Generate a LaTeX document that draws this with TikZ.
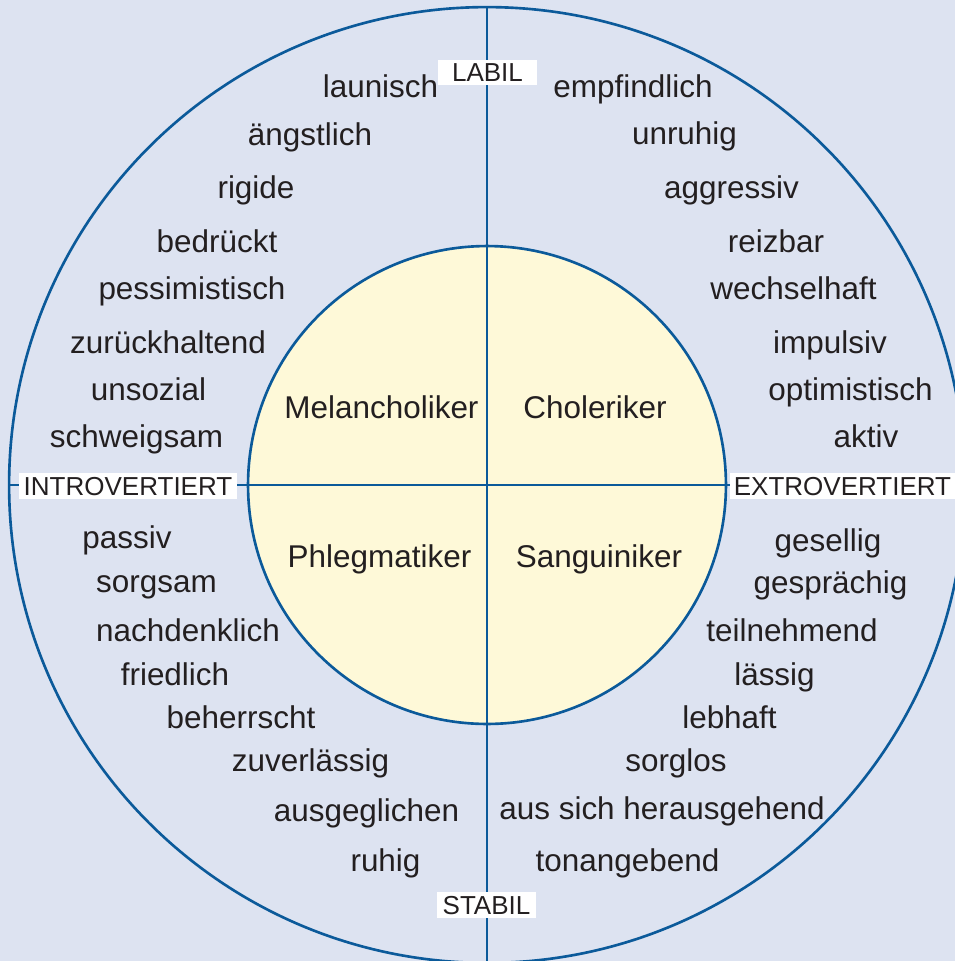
\documentclass[tikz,border=0pt]{standalone}
\usepackage{fontspec}
\setmainfont{Liberation Sans}
\definecolor{bgblue}{HTML}{DDE3F1}
\definecolor{ringblue}{HTML}{0B5A9A}
\definecolor{coreyellow}{HTML}{FEF9D8}
\definecolor{ink}{HTML}{231F20}

\begin{document}
\begin{tikzpicture}[x=0.02cm, y=-0.02cm,
    ring/.style={draw=ringblue, line width=1.5pt},
    word/.style={font=\fontsize{17.9}{20}\selectfont, text=ink, anchor=base, inner sep=0pt},
    typ/.style={word},
    axislabel/.style={font=\fontsize{14.8}{17}\selectfont, text=ink, fill=white,
        text height=10.6pt, text depth=0pt, inner xsep=2.5pt, inner ysep=2pt}]

    % Background
    \useasboundingbox (0,0) rectangle (955,961);
    \clip (0,0) rectangle (955,961);
    \fill[bgblue] (0,0) rectangle (955,961);

    % Circles
    \coordinate (center) at (487,485);
    \draw[ring] (center) circle[radius=9.56cm];
    \filldraw[ring, fill=coreyellow] (center) circle[radius=4.78cm];

    % Axes
    \coordinate (north) at (487,7);
    \coordinate (south) at (487,963);
    \coordinate (west) at (9,485);
    \coordinate (east) at (965,485);
    \draw[ring] (north) -- (south);
    \draw[ring] (west) -- (east);

    % Axis labels
    \node[axislabel, minimum width=1.98cm] (labil) at (487.5,72.5) {LABIL};
    \node[axislabel, minimum width=1.98cm] (stabil) at (486.5,905) {STABIL};
    \node[axislabel] (intro) at (128,486) {INTROVERTIERT};
    \node[axislabel] (extro) at (842.5,486) {EXTROVERTIERT};

    % Temperamente
    \node[typ] (melancholiker) at (381.5,418) {Melancholiker};
    \node[typ] (choleriker) at (595,418) {Choleriker};
    \node[typ] (phlegmatiker) at (379.5,567) {Phlegmatiker};
    \node[typ] (sanguiniker) at (599,567) {Sanguiniker};

    % labil / introvertiert
    \node[word] (launisch) at (380.5,97) {launisch};
    \node[word] (aengstlich) at (310,145) {ängstlich};
    \node[word] (rigide) at (256,198) {rigide};
    \node[word] (bedrueckt) at (217,252) {bedrückt};
    \node[word] (pessimistisch) at (192,299) {pessimistisch};
    \node[word] (zurueckhaltend) at (168,353) {zurückhaltend};
    \node[word] (unsozial) at (148.5,400) {unsozial};
    \node[word] (schweigsam) at (136.5,447) {schweigsam};

    % labil / extrovertiert
    \node[word] (empfindlich) at (633,97) {empfindlich};
    \node[word] (unruhig) at (684.5,144) {unruhig};
    \node[word] (aggressiv) at (731.5,198) {aggressiv};
    \node[word] (reizbar) at (776,252) {reizbar};
    \node[word] (wechselhaft) at (793.5,299) {wechselhaft};
    \node[word] (impulsiv) at (830,353) {impulsiv};
    \node[word] (optimistisch) at (850.5,400) {optimistisch};
    \node[word] (aktiv) at (866,447) {aktiv};

    % stabil / introvertiert
    \node[word] (passiv) at (127,548) {passiv};
    \node[word] (sorgsam) at (156.5,592) {sorgsam};
    \node[word] (nachdenklich) at (188,641) {nachdenklich};
    \node[word] (friedlich) at (175,685) {friedlich};
    \node[word] (beherrscht) at (241,728) {beherrscht};
    \node[word] (zuverlaessig) at (310.5,771) {zuverlässig};
    \node[word] (ausgeglichen) at (366.5,821) {ausgeglichen};
    \node[word] (ruhig) at (385.5,871) {ruhig};

    % stabil / extrovertiert
    \node[word] (gesellig) at (828,551) {gesellig};
    \node[word] (gespraechig) at (830.5,593) {gesprächig};
    \node[word] (teilnehmend) at (792,641) {teilnehmend};
    \node[word] (laessig) at (774.5,685) {lässig};
    \node[word] (lebhaft) at (729.5,728) {lebhaft};
    \node[word] (sorglos) at (676,771) {sorglos};
    \node[word] (herausgehend) at (662,819) {aus sich herausgehend};
    \node[word] (tonangebend) at (627.5,871) {tonangebend};

\end{tikzpicture}
\end{document}
